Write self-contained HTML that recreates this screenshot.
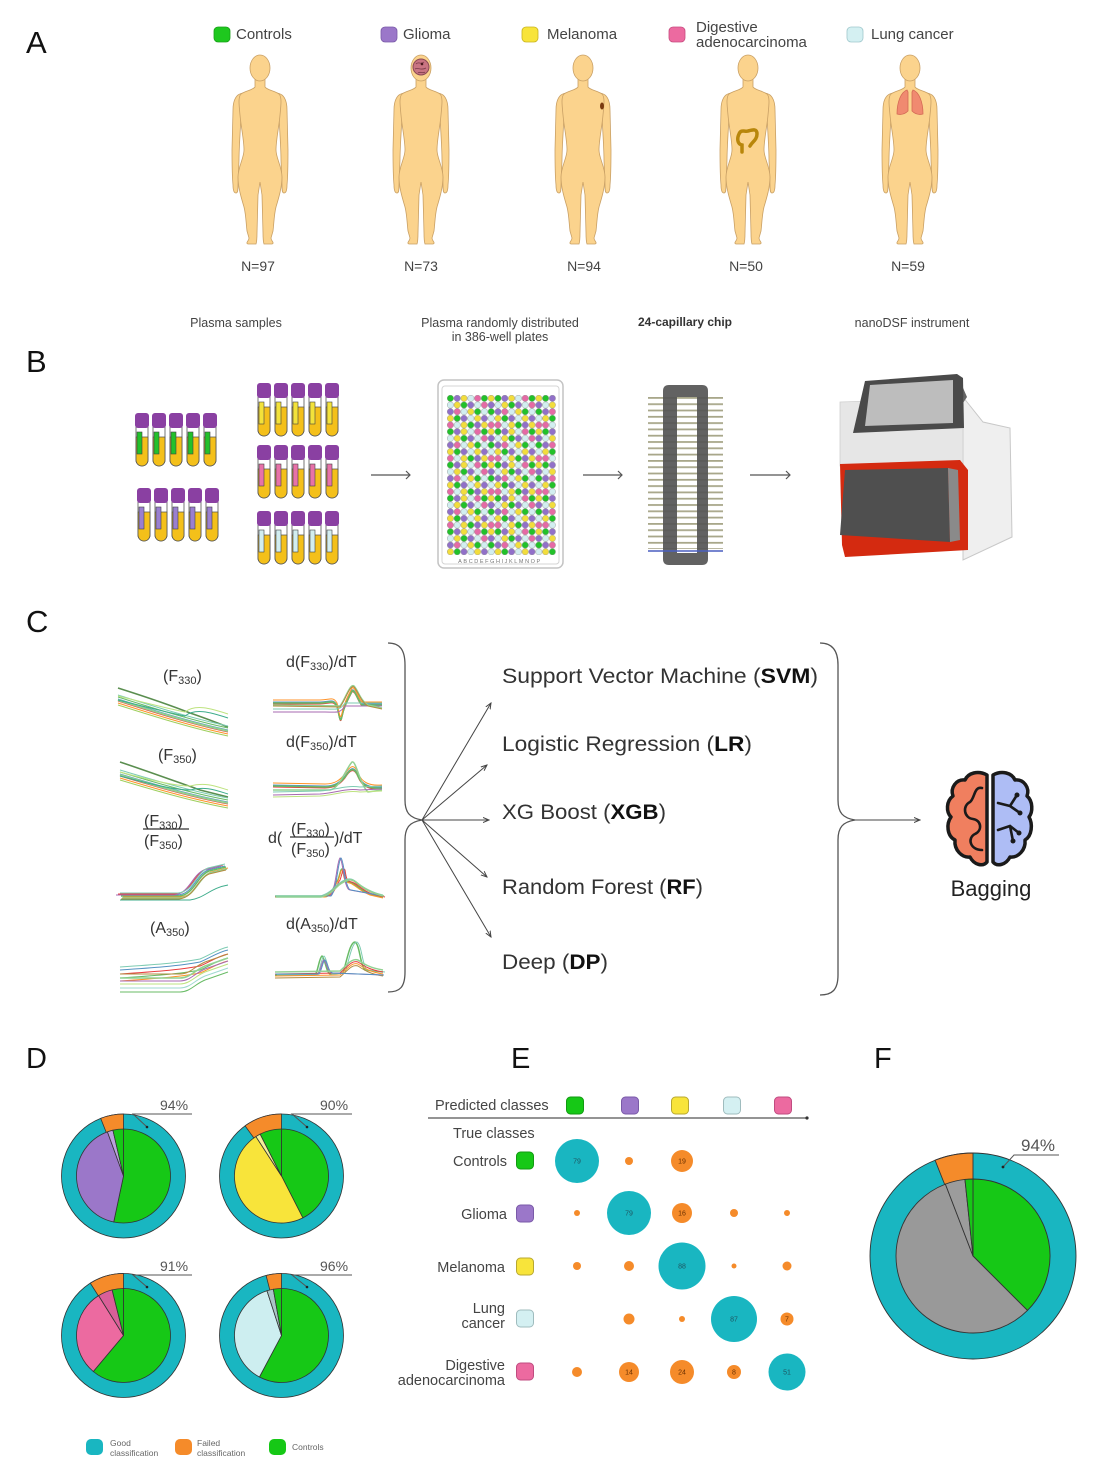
<!DOCTYPE html>
<html><head><meta charset="utf-8"><style>
html,body{margin:0;padding:0;background:#fff;}
svg{display:block;}
text{font-family:"Liberation Sans",sans-serif;}
</style></head><body>
<svg width="1096" height="1470" viewBox="0 0 1096 1470" xmlns="http://www.w3.org/2000/svg">
<defs>
  <g id="fig">
    <path d="M-17,38 C-24,39 -27,45 -27,55 L-28,95 C-28,110 -28,120 -27,130 C-27,135 -26,138 -24,138 C-22,138 -22,134 -22,130 L-21,105 C-21,95 -20,80 -19,62 Z"/>
    <path d="M17,38 C24,39 27,45 27,55 L28,95 C28,110 28,120 27,130 C27,135 26,138 24,138 C22,138 22,134 22,130 L21,105 C21,95 20,80 19,62 Z"/>
    <path d="M-5,24 L-5,32 C-7,35 -15,36 -19,39 C-22,42 -21,50 -20,60 C-19,72 -16,85 -16,95 C-16,103 -22,112 -22,122 C-22,132 -19,142 -16,152 C-14,160 -14,168 -13,176 L-11,183 C-11,186 -15,188 -12,189 L-4,189 C-3,186 -3,183 -3,178 L-2,140 L0,127 L2,140 L3,178 C3,183 3,186 4,189 L12,189 C15,188 11,186 11,183 L13,176 C14,168 14,160 16,152 C19,142 22,132 22,122 C22,112 16,103 16,95 C16,85 19,72 20,60 C21,50 22,42 19,39 C15,36 7,35 5,32 L5,24 Z"/>
    <ellipse cx="0" cy="13" rx="10" ry="13"/>
  </g>
  <g id="tube">
    <path d="M1,14 L13,14 L13,47 A6,6 0 0 1 1,47 Z" fill="#fff" stroke="#555" stroke-width="0.8"/>
    <path d="M1,24 L13,24 L13,47 A6,6 0 0 1 1,47 Z" fill="#f4c01a" stroke="#555" stroke-width="0.8"/>
    <rect x="2" y="19" width="5" height="22" fill="currentColor" stroke="#444" stroke-width="0.6"/>
    <rect x="0" y="0" width="14" height="15" rx="3" fill="#8a40a2"/>
  </g>
  <pattern id="wells" x="447" y="395" width="47.6" height="33.35" patternUnits="userSpaceOnUse">
    <g stroke="#8a8a8a" stroke-width="0.4">
      <circle cx="3.4" cy="3.3" r="3.2" fill="#22c12a"/><circle cx="10.2" cy="3.3" r="3.2" fill="#9170c8"/><circle cx="17" cy="3.3" r="3.2" fill="#f2dd3c"/><circle cx="23.8" cy="3.3" r="3.2" fill="#d2eef0"/><circle cx="30.6" cy="3.3" r="3.2" fill="#e56aa5"/><circle cx="37.4" cy="3.3" r="3.2" fill="#22c12a"/><circle cx="44.2" cy="3.3" r="3.2" fill="#f2dd3c"/>
      <circle cx="3.4" cy="10" r="3.2" fill="#d2eef0"/><circle cx="10.2" cy="10" r="3.2" fill="#f2dd3c"/><circle cx="17" cy="10" r="3.2" fill="#22c12a"/><circle cx="23.8" cy="10" r="3.2" fill="#9170c8"/><circle cx="30.6" cy="10" r="3.2" fill="#d2eef0"/><circle cx="37.4" cy="10" r="3.2" fill="#e56aa5"/><circle cx="44.2" cy="10" r="3.2" fill="#9170c8"/>
      <circle cx="3.4" cy="16.7" r="3.2" fill="#9170c8"/><circle cx="10.2" cy="16.7" r="3.2" fill="#e56aa5"/><circle cx="17" cy="16.7" r="3.2" fill="#d2eef0"/><circle cx="23.8" cy="16.7" r="3.2" fill="#f2dd3c"/><circle cx="30.6" cy="16.7" r="3.2" fill="#22c12a"/><circle cx="37.4" cy="16.7" r="3.2" fill="#d2eef0"/><circle cx="44.2" cy="16.7" r="3.2" fill="#22c12a"/>
      <circle cx="3.4" cy="23.4" r="3.2" fill="#f2dd3c"/><circle cx="10.2" cy="23.4" r="3.2" fill="#22c12a"/><circle cx="17" cy="23.4" r="3.2" fill="#9170c8"/><circle cx="23.8" cy="23.4" r="3.2" fill="#d2eef0"/><circle cx="30.6" cy="23.4" r="3.2" fill="#f2dd3c"/><circle cx="37.4" cy="23.4" r="3.2" fill="#9170c8"/><circle cx="44.2" cy="23.4" r="3.2" fill="#d2eef0"/>
      <circle cx="3.4" cy="30" r="3.2" fill="#e56aa5"/><circle cx="10.2" cy="30" r="3.2" fill="#d2eef0"/><circle cx="17" cy="30" r="3.2" fill="#f2dd3c"/><circle cx="23.8" cy="30" r="3.2" fill="#22c12a"/><circle cx="30.6" cy="30" r="3.2" fill="#9170c8"/><circle cx="37.4" cy="30" r="3.2" fill="#f2dd3c"/><circle cx="44.2" cy="30" r="3.2" fill="#e56aa5"/>
    </g>
  </pattern>
  <pattern id="stripes" x="0" y="397" width="10" height="6.3" patternUnits="userSpaceOnUse">
    <rect x="0" y="0" width="10" height="1.8" fill="#a8a78a"/>
  </pattern>
  <marker id="ah" markerWidth="7" markerHeight="7" refX="6" refY="3.5" orient="auto" markerUnits="userSpaceOnUse">
    <path d="M0,1 L6,3.5 L0,6" fill="none" stroke="#444" stroke-width="1"/>
  </marker>
  <path id="p1a" d="M118,697 C150,707 190,720 228,728"/>
  <path id="p1b" d="M118,688 C140,695 170,705 190,713 C205,718 215,722 228,727"/>
  <path id="p1c" d="M118,700 C150,708 175,714 185,716 C195,708 210,712 228,718"/>
  <path id="p2a" d="M120,772 C150,781 190,793 228,800"/>
  <path id="p2b" d="M120,762 C150,772 180,783 200,790 L228,797"/>
  <path id="p2c" d="M120,776 C150,784 175,790 190,790 C205,786 215,790 228,794"/>
  <path id="p3a" d="M120,895 L178,895 C193,894 196,875 208,870 L225,866"/>
  <path id="p3b" d="M120,900 L190,900 C205,898 210,888 228,885"/>
  <path id="p4a" d="M120,970 C150,968 180,966 200,962 C210,958 218,952 228,950"/>
  <path id="p4b" d="M120,978 L180,978 C190,978 195,970 205,966 L228,958"/>
  <path id="p5a" d="M273,702 L320,702 C330,702 333,698 337,705 C339,712 340,725 342,715 C344,705 348,698 352,690 C355,688 358,700 362,704 L382,704"/>
  <path id="p5b" d="M273,712 L325,712 C335,712 340,714 345,706 L382,706"/>
  <path id="p5c" d="M273,705 L340,706 C345,700 350,683 354,686 C358,690 360,700 368,705 L382,708"/>
  <path id="p6a" d="M273,785 L325,786 C335,786 340,782 345,776 C350,768 354,765 358,775 C362,785 370,788 382,787"/>
  <path id="p6b" d="M273,790 L330,790 C340,788 345,770 352,762 C356,760 360,785 368,792 L382,790"/>
  <path id="p6c" d="M273,795 L320,794 C335,793 345,788 360,790 L382,789"/>
  <path id="p7a" d="M275,896 L325,896 C332,896 334,885 338,880 C340,875 341,866 343,870 C345,885 347,880 352,883 C356,885 360,890 370,894 L383,897"/>
  <path id="p7b" d="M275,896 L330,896 C336,890 337,860 340,858 C343,860 344,890 350,890 L383,896"/>
  <path id="p7c" d="M275,897 L320,897 C328,895 333,890 338,885 C345,880 350,878 355,882 C362,888 370,893 383,896"/>
  <path id="p8a" d="M275,975 L315,975 C318,972 319,958 322,956 C325,958 326,972 330,974 L343,973 C347,960 350,942 355,942 C360,945 360,965 365,970 L383,972"/>
  <path id="p8b" d="M275,976 L340,975 C348,968 352,962 358,964 C364,968 370,972 383,974"/>
  <path id="p8c" d="M275,974 L318,974 C321,970 322,960 324,960 C327,963 327,972 332,973 L383,975"/>
</defs>

<!-- ===== Panel A ===== -->
<text x="26" y="53" font-size="31" fill="#111">A</text>
<g font-size="15" fill="#444">
  <rect x="214" y="27" width="16" height="15" rx="4" fill="#1ec81e" stroke="#18a018" stroke-width="0.8"/>
  <text x="236" y="39">Controls</text>
  <rect x="381" y="27" width="16" height="15" rx="4" fill="#9b77c9" stroke="#7a5aa8" stroke-width="0.8"/>
  <text x="403" y="39">Glioma</text>
  <rect x="522" y="27" width="16" height="15" rx="4" fill="#f8e43a" stroke="#c8b420" stroke-width="0.8"/>
  <text x="547" y="39">Melanoma</text>
  <rect x="669" y="27" width="16" height="15" rx="4" fill="#ec6aa0" stroke="#c84c80" stroke-width="0.8"/>
  <text x="696" y="32">Digestive</text>
  <text x="696" y="47">adenocarcinoma</text>
  <rect x="847" y="27" width="16" height="15" rx="4" fill="#d4f0f2" stroke="#a0c8cc" stroke-width="0.8"/>
  <text x="871" y="39">Lung cancer</text>
</g>
<g fill="#fbd38d" stroke="#c9a065" stroke-width="0.8">
  <use href="#fig" transform="translate(260,55)"/>
  <use href="#fig" transform="translate(421,55)"/>
  <use href="#fig" transform="translate(583,55)"/>
  <use href="#fig" transform="translate(748,55)"/>
  <use href="#fig" transform="translate(910,55)"/>
</g>
<circle cx="421" cy="67" r="8" fill="#c97482" stroke="#8a4a55" stroke-width="1"/>
<path d="M416,64 C418,61 421,65 424,62 M415,69 C418,67 421,71 426,68 M418,73 C420,71 423,74 425,72" fill="none" stroke="#7a3a48" stroke-width="0.8"/>
<circle cx="422" cy="64" r="1.3" fill="#4a1a20"/>
<ellipse cx="602" cy="106" rx="2" ry="3.5" fill="#7a3a10"/>
<path d="M742,152 L742,145 C737,144 737,138 739,134 C741,129 745,132 748,131 C752,130 757,128 757,134 C757,140 752,142 750,146" fill="none" stroke="#b8860b" stroke-width="3.5" stroke-linecap="round"/>
<path d="M907,90 C901,92 897,102 897,114 C901,115 905,114 908,111 L908,92 Z" fill="#f08a70" stroke="#d46a55" stroke-width="0.8"/>
<path d="M913,90 C919,92 923,102 923,114 C919,115 915,114 912,111 L912,92 Z" fill="#f08a70" stroke="#d46a55" stroke-width="0.8"/>
<g font-size="14" fill="#444" text-anchor="middle">
  <text x="258" y="271">N=97</text>
  <text x="421" y="271">N=73</text>
  <text x="584" y="271">N=94</text>
  <text x="746" y="271">N=50</text>
  <text x="908" y="271">N=59</text>
</g>

<!-- ===== Panel B ===== -->
<g font-size="12.5" fill="#444" text-anchor="middle">
  <text x="236" y="327">Plasma samples</text>
  <text x="500" y="327">Plasma randomly distributed</text>
  <text x="500" y="341">in 386-well plates</text>
  <text x="685" y="326" font-weight="bold" font-size="12" fill="#333">24-capillary chip</text>
  <text x="912" y="327">nanoDSF instrument</text>
</g>
<text x="26" y="372" font-size="31" fill="#111">B</text>
<g color="#22c12a">
  <use href="#tube" x="135" y="413"/><use href="#tube" x="152" y="413"/><use href="#tube" x="169" y="413"/><use href="#tube" x="186" y="413"/><use href="#tube" x="203" y="413"/>
</g>
<g color="#9a7fd0">
  <use href="#tube" x="137" y="488"/><use href="#tube" x="154" y="488"/><use href="#tube" x="171" y="488"/><use href="#tube" x="188" y="488"/><use href="#tube" x="205" y="488"/>
</g>
<g color="#f3e23a">
  <use href="#tube" x="257" y="383"/><use href="#tube" x="274" y="383"/><use href="#tube" x="291" y="383"/><use href="#tube" x="308" y="383"/><use href="#tube" x="325" y="383"/>
</g>
<g color="#e872a8">
  <use href="#tube" x="257" y="445"/><use href="#tube" x="274" y="445"/><use href="#tube" x="291" y="445"/><use href="#tube" x="308" y="445"/><use href="#tube" x="325" y="445"/>
</g>
<g color="#d2eef0">
  <use href="#tube" x="257" y="511"/><use href="#tube" x="274" y="511"/><use href="#tube" x="291" y="511"/><use href="#tube" x="308" y="511"/><use href="#tube" x="325" y="511"/>
</g>
<g stroke="#555" stroke-width="1.2" fill="none">
  <line x1="371" y1="475" x2="410" y2="475"/><path d="M406,471 L410,475 L406,479"/>
  <line x1="583" y1="475" x2="622" y2="475"/><path d="M618,471 L622,475 L618,479"/>
  <line x1="750" y1="475" x2="790" y2="475"/><path d="M786,471 L790,475 L786,479"/>
</g>
<rect x="438" y="380" width="125" height="188" rx="6" fill="#fff" stroke="#c4c4c4" stroke-width="1.5"/>
<rect x="442" y="386" width="117" height="178" rx="3" fill="#fff" stroke="#d4d4d4" stroke-width="1"/>
<rect x="447" y="395" width="108.8" height="160" fill="url(#wells)"/>
<text x="500" y="563" font-size="5.5" fill="#777" text-anchor="middle" letter-spacing="1.6">ABCDEFGHIJKLMNOP</text>
<rect x="648" y="397" width="75" height="152" fill="url(#stripes)"/>
<path d="M669,385 L702,385 Q708,385 708,391 L708,559 Q708,565 702,565 L669,565 Q663,565 663,559 L663,391 Q663,385 669,385 Z M677,397 L677,553 L697,553 L697,397 Z" fill="#555" fill-rule="evenodd" opacity="0.92"/>
<line x1="648" y1="551" x2="723" y2="551" stroke="#4a5fc0" stroke-width="1.4"/>
<polygon points="963,397 983,422 1010,428 1012,537 963,560" fill="#efefef" stroke="#c8c8c8" stroke-width="1"/>
<polygon points="957,374 967,397 963,403 953,380" fill="#666"/>
<polygon points="840,402 963,398 963,463 840,466" fill="#e6e6e6" stroke="#cfcfcf" stroke-width="0.8"/>
<polygon points="865,381 957,374 963,378 964,428 853,433" fill="#4a4a4a"/>
<polygon points="870,385 953,380 953,423 865,426" fill="#bdbdbd"/>
<polygon points="840,464 960,460 968,470 968,550 845,557 842,545" fill="#d42a10"/>
<polygon points="845,470 948,468 950,542 840,535" fill="#4f4f4f"/>
<polygon points="948,468 958,470 960,540 950,542" fill="#8a8a8a"/>

<!-- ===== Panel C ===== -->
<text x="26" y="632" font-size="31" fill="#111">C</text>
<g fill="#333" font-size="16">
  <text x="163" y="681">(F<tspan font-size="11" dy="3">330</tspan><tspan dy="-3">)</tspan></text>
  <text x="286" y="667">d(F<tspan font-size="11" dy="3">330</tspan><tspan dy="-3">)/dT</tspan></text>
  <text x="158" y="760">(F<tspan font-size="11" dy="3">350</tspan><tspan dy="-3">)</tspan></text>
  <text x="286" y="747">d(F<tspan font-size="11" dy="3">350</tspan><tspan dy="-3">)/dT</tspan></text>
  <text x="144" y="826">(F<tspan font-size="11" dy="3">330</tspan><tspan dy="-3">)</tspan></text>
  <line x1="143" y1="829" x2="189" y2="829" stroke="#333" stroke-width="1.3"/>
  <text x="144" y="846">(F<tspan font-size="11" dy="3">350</tspan><tspan dy="-3">)</tspan></text>
  <text x="268" y="843">d(</text>
  <text x="291" y="834">(F<tspan font-size="11" dy="3">330</tspan><tspan dy="-3">)</tspan></text>
  <line x1="290" y1="837" x2="334" y2="837" stroke="#333" stroke-width="1.3"/>
  <text x="291" y="854">(F<tspan font-size="11" dy="3">350</tspan><tspan dy="-3">)</tspan></text>
  <text x="334" y="843">)/dT</text>
  <text x="150" y="933">(A<tspan font-size="11" dy="3">350</tspan><tspan dy="-3">)</tspan></text>
  <text x="286" y="929">d(A<tspan font-size="11" dy="3">350</tspan><tspan dy="-3">)/dT</tspan></text>
</g>
<g fill="none" stroke-width="1" opacity="0.85">
  <use href="#p1b" stroke="#3d7a30" stroke-width="1.6"/>
  <use href="#p1a" stroke="#4daf4a"/><use href="#p1a" y="2" stroke="#377eb8"/><use href="#p1a" y="4" stroke="#e41a1c"/><use href="#p1a" y="-2" stroke="#66c2a5"/><use href="#p1a" y="6" stroke="#ff7f00"/><use href="#p1a" y="3" stroke="#7fc97f" stroke-width="2"/><use href="#p1a" y="8" stroke="#8dc63f"/>
  <use href="#p1c" stroke="#1b9e77"/><use href="#p1c" y="-4" stroke="#b3de69"/>
  <use href="#p2b" stroke="#3d7a30" stroke-width="1.6"/>
  <use href="#p2a" stroke="#4daf4a"/><use href="#p2a" y="2" stroke="#377eb8"/><use href="#p2a" y="4" stroke="#e41a1c"/><use href="#p2a" y="-2" stroke="#66c2a5"/><use href="#p2a" y="6" stroke="#ff7f00"/><use href="#p2a" y="3" stroke="#7fc97f" stroke-width="2"/><use href="#p2a" y="8" stroke="#8dc63f"/>
  <use href="#p2c" stroke="#1b9e77"/><use href="#p2c" y="-4" stroke="#b3de69"/>
  <use href="#p3a" stroke="#377eb8"/><use href="#p3a" x="1" y="1" stroke="#4daf4a" stroke-width="1.5"/><use href="#p3a" x="-2" y="-1" stroke="#e41a1c"/><use href="#p3a" x="3" y="2" stroke="#ff7f00"/><use href="#p3a" x="-4" y="0" stroke="#984ea3"/><use href="#p3a" x="2" y="3" stroke="#7fc97f" stroke-width="1.6"/><use href="#p3a" x="0" y="-2" stroke="#66c2a5"/><use href="#p3a" x="1" y="4" stroke="#a6761d"/>
  <use href="#p3b" stroke="#1b9e77"/>
  <use href="#p4a" stroke="#377eb8"/><use href="#p4a" y="4" stroke="#e41a1c"/><use href="#p4a" y="8" stroke="#4daf4a"/><use href="#p4a" y="11" stroke="#ff7f00"/><use href="#p4a" y="-3" stroke="#66c2a5"/>
  <use href="#p4b" stroke="#7fc97f" stroke-width="1.6"/><use href="#p4b" y="3" stroke="#984ea3"/><use href="#p4b" y="6" stroke="#b3de69"/><use href="#p4b" y="-4" stroke="#a6761d"/><use href="#p4b" y="10" stroke="#8dd3c7"/><use href="#p4b" y="14" stroke="#4daf4a"/>
  <use href="#p5a" stroke="#377eb8"/><use href="#p5a" y="2" stroke="#e41a1c"/><use href="#p5a" y="1" stroke="#4daf4a" stroke-width="1.6"/><use href="#p5a" y="-2" stroke="#ff7f00"/><use href="#p5b" stroke="#984ea3"/><use href="#p5b" y="-3" stroke="#66c2a5"/><use href="#p5c" stroke="#7fc97f" stroke-width="1.5"/><use href="#p5c" y="1" stroke="#a6761d"/>
  <use href="#p6a" stroke="#377eb8"/><use href="#p6a" y="2" stroke="#e41a1c"/><use href="#p6a" y="1" stroke="#4daf4a" stroke-width="1.6"/><use href="#p6a" y="-2" stroke="#ff7f00"/><use href="#p6b" stroke="#7fc97f" stroke-width="1.5"/><use href="#p6c" stroke="#984ea3"/><use href="#p6c" y="-3" stroke="#66c2a5"/><use href="#p6c" y="2" stroke="#b3de69"/>
  <use href="#p7a" stroke="#4daf4a" stroke-width="1.6"/><use href="#p7a" y="1" stroke="#ff7f00"/><use href="#p7a" x="2" stroke="#e41a1c"/><use href="#p7b" stroke="#984ea3"/><use href="#p7b" x="1" stroke="#377eb8"/><use href="#p7c" stroke="#a6761d"/><use href="#p7c" y="-1" stroke="#66c2a5"/><use href="#p7c" x="1" stroke="#7fc97f" stroke-width="1.5"/>
  <use href="#p8a" stroke="#4daf4a" stroke-width="1.5"/><use href="#p8a" x="2" stroke="#66c2a5"/><use href="#p8b" stroke="#ff7f00"/><use href="#p8b" y="-2" stroke="#e41a1c"/><use href="#p8b" y="2" stroke="#a6761d"/><use href="#p8c" stroke="#984ea3"/><use href="#p8c" x="1" stroke="#377eb8"/><use href="#p8b" y="-4" stroke="#7fc97f" stroke-width="1.5"/>
</g>
<g fill="none" stroke="#555" stroke-width="1.3">
  <path d="M388,643 C400,643 405,650 405,665 L405,800 C405,813 410,818 422,820 C410,822 405,827 405,840 L405,972 C405,987 400,992 388,992"/>
  <path d="M820,643 C832,643 838,650 838,665 L838,800 C838,813 843,818 855,820 C843,822 838,827 838,840 L838,975 C838,990 832,995 820,995"/>
</g>
<g stroke="#444" stroke-width="1" fill="none" marker-end="url(#ah)">
  <line x1="422" y1="820" x2="491" y2="703"/>
  <line x1="422" y1="820" x2="487" y2="765"/>
  <line x1="422" y1="820" x2="489" y2="820"/>
  <line x1="422" y1="820" x2="487" y2="877"/>
  <line x1="422" y1="820" x2="491" y2="937"/>
  <line x1="855" y1="820" x2="920" y2="820"/>
</g>
<g font-size="21" fill="#333">
  <text x="502" y="683" textLength="316" lengthAdjust="spacingAndGlyphs">Support Vector Machine (<tspan font-weight="bold" fill="#111">SVM</tspan>)</text>
  <text x="502" y="751" textLength="250" lengthAdjust="spacingAndGlyphs">Logistic Regression (<tspan font-weight="bold" fill="#111">LR</tspan>)</text>
  <text x="502" y="819" textLength="164" lengthAdjust="spacingAndGlyphs">XG Boost (<tspan font-weight="bold" fill="#111">XGB</tspan>)</text>
  <text x="502" y="894" textLength="201" lengthAdjust="spacingAndGlyphs">Random Forest (<tspan font-weight="bold" fill="#111">RF</tspan>)</text>
  <text x="502" y="969" textLength="106" lengthAdjust="spacingAndGlyphs">Deep (<tspan font-weight="bold" fill="#111">DP</tspan>)</text>
</g>
<g stroke="#1a1a1a" stroke-width="3.5" stroke-linejoin="round">
  <path d="M987,775 C978,770 968,773 965,780 C956,779 950,788 953,796 C946,801 946,812 951,817 C946,824 947,836 955,840 C954,850 962,858 970,857 C974,865 983,867 987,862 Z" fill="#f07f5f"/>
  <path d="M993,775 C1002,770 1012,773 1015,780 C1024,779 1030,788 1027,796 C1033,801 1033,812 1029,817 C1033,824 1032,836 1025,840 C1026,850 1018,858 1010,857 C1006,865 997,867 993,862 Z" fill="#aebdf5"/>
</g>
<g fill="none" stroke="#1a1a1a" stroke-width="2.6" stroke-linecap="round">
  <path d="M982,788 C974,786 975,798 970,802 C962,806 964,818 973,819 C981,820 983,830 975,834 C967,838 970,850 982,850"/>
  <path d="M998,803 L1010,806 L1017,795 M1010,806 L1020,813 M998,830 L1010,826 L1019,833 M1010,826 L1013,841"/>
</g>
<g fill="#1a1a1a"><circle cx="1017" cy="795" r="2.5"/><circle cx="1020" cy="813" r="2.5"/><circle cx="1019" cy="833" r="2.5"/><circle cx="1013" cy="841" r="2.5"/></g>
<text x="991" y="896" font-size="22" fill="#222" text-anchor="middle">Bagging</text>

<!-- ===== Panel D ===== -->
<text x="26" y="1068" font-size="29" fill="#111">D</text>
<g stroke="#333" stroke-width="0.8">
  <circle cx="123.5" cy="1176" r="62" fill="#19b6c1"/>
  <path d="M123.5,1176 L100.68,1118.35 A62,62 0 0 1 123.5,1114 Z" fill="#f58b2a"/>
  <path d="M123.5,1176 L123.5,1129 A47,47 0 1 1 113.73,1221.97 Z" fill="#16c816"/>
  <path d="M123.5,1176 L113.73,1221.97 A47,47 0 0 1 107.43,1131.83 Z" fill="#9b77c9"/>
  <path d="M123.5,1176 L107.43,1131.83 A47,47 0 0 1 112.93,1130.2 Z" fill="#b9a2dc"/>
  <path d="M123.5,1176 L112.93,1130.2 A47,47 0 0 1 123.5,1129 Z" fill="#16c816"/>
  <circle cx="281.5" cy="1176" r="62" fill="#19b6c1"/>
  <path d="M281.5,1176 L245.06,1125.84 A62,62 0 0 1 281.5,1114 Z" fill="#f58b2a"/>
  <path d="M281.5,1176 L281.5,1129 A47,47 0 0 1 302.84,1217.88 Z" fill="#16c816"/>
  <path d="M281.5,1176 L302.84,1217.88 A47,47 0 0 1 255.9,1136.58 Z" fill="#f8e43a"/>
  <path d="M281.5,1176 L255.9,1136.58 A47,47 0 0 1 260.16,1134.12 Z" fill="#f4ee9a"/>
  <path d="M281.5,1176 L260.16,1134.12 A47,47 0 0 1 281.5,1129 Z" fill="#16c816"/>
  <circle cx="123.5" cy="1335.5" r="62" fill="#19b6c1"/>
  <path d="M123.5,1335.5 L90.28,1283.15 A62,62 0 0 1 123.5,1273.5 Z" fill="#f58b2a"/>
  <path d="M123.5,1335.5 L123.5,1288.5 A47,47 0 1 1 93.29,1371.5 Z" fill="#16c816"/>
  <path d="M123.5,1335.5 L93.29,1371.5 A47,47 0 0 1 98.59,1295.64 Z" fill="#ec6aa0"/>
  <path d="M123.5,1335.5 L98.59,1295.64 A47,47 0 0 1 112.13,1289.9 Z" fill="#d95f98"/>
  <path d="M123.5,1335.5 L112.13,1289.9 A47,47 0 0 1 123.5,1288.5 Z" fill="#16c816"/>
  <circle cx="281.5" cy="1335.5" r="62" fill="#19b6c1"/>
  <path d="M281.5,1335.5 L266.08,1275.45 A62,62 0 0 1 281.5,1273.5 Z" fill="#f58b2a"/>
  <path d="M281.5,1335.5 L281.5,1288.5 A47,47 0 1 1 259.43,1377 Z" fill="#16c816"/>
  <path d="M281.5,1335.5 L259.43,1377 A47,47 0 0 1 266.98,1290.8 Z" fill="#cdeef0"/>
  <path d="M281.5,1335.5 L266.98,1290.8 A47,47 0 0 1 273.34,1289.21 Z" fill="#a8c4c6"/>
  <path d="M281.5,1335.5 L273.34,1289.21 A47,47 0 0 1 281.5,1288.5 Z" fill="#16c816"/>
</g>
<g fill="#555" font-size="14">
  <text x="160" y="1110">94%</text>
  <text x="320" y="1110">90%</text>
  <text x="160" y="1271">91%</text>
  <text x="320" y="1271">96%</text>
</g>
<g stroke="#555" stroke-width="1" fill="none">
  <path d="M192,1114 L133,1114 L147,1127"/>
  <path d="M352,1114 L292,1114 L307,1127"/>
  <path d="M192,1275 L133,1275 L147,1287"/>
  <path d="M352,1275 L292,1275 L307,1287"/>
</g>
<g fill="#222"><circle cx="147" cy="1127" r="1.3"/><circle cx="307" cy="1127" r="1.3"/><circle cx="147" cy="1287" r="1.3"/><circle cx="307" cy="1287" r="1.3"/></g>
<rect x="86" y="1439" width="17" height="16" rx="5" fill="#19b6c1"/>
<rect x="175" y="1439" width="17" height="16" rx="5" fill="#f58b2a"/>
<rect x="269" y="1439" width="17" height="16" rx="5" fill="#16c816"/>
<g font-size="8.5" fill="#666">
  <text x="110" y="1446">Good</text><text x="110" y="1456">classification</text>
  <text x="197" y="1446">Failed</text><text x="197" y="1456">classification</text>
  <text x="292" y="1450">Controls</text>
</g>

<!-- ===== Panel E ===== -->
<text x="511" y="1068" font-size="29" fill="#111">E</text>
<g font-size="14.5" fill="#444">
  <text x="435" y="1110">Predicted classes</text>
  <text x="453" y="1138">True classes</text>
  <g text-anchor="end">
    <text x="507" y="1166">Controls</text>
    <text x="507" y="1219">Glioma</text>
    <text x="505" y="1272">Melanoma</text>
    <text x="505" y="1313">Lung</text>
    <text x="505" y="1328">cancer</text>
    <text x="505" y="1370">Digestive</text>
    <text x="505" y="1385">adenocarcinoma</text>
  </g>
</g>
<g stroke-width="1">
  <rect x="566.5" y="1097" width="17" height="17" rx="4" fill="#16c816" stroke="#129a12"/>
  <rect x="621.5" y="1097" width="17" height="17" rx="4" fill="#9b77c9" stroke="#7a5aa8"/>
  <rect x="671.5" y="1097" width="17" height="17" rx="4" fill="#f8e43a" stroke="#b8a830"/>
  <rect x="723.5" y="1097" width="17" height="17" rx="4" fill="#d4f0f2" stroke="#9fbcbe"/>
  <rect x="774.5" y="1097" width="17" height="17" rx="4" fill="#ec6aa0" stroke="#c04c80"/>
  <rect x="516.5" y="1152" width="17" height="17" rx="4" fill="#16c816" stroke="#129a12"/>
  <rect x="516.5" y="1205" width="17" height="17" rx="4" fill="#9b77c9" stroke="#7a5aa8"/>
  <rect x="516.5" y="1258" width="17" height="17" rx="4" fill="#f8e43a" stroke="#b8a830"/>
  <rect x="516.5" y="1310" width="17" height="17" rx="4" fill="#d4f0f2" stroke="#9fbcbe"/>
  <rect x="516.5" y="1363" width="17" height="17" rx="4" fill="#ec6aa0" stroke="#c04c80"/>
</g>
<line x1="428" y1="1118" x2="806" y2="1118" stroke="#555" stroke-width="1.3"/>
<circle cx="807" cy="1118" r="1.6" fill="#333"/>
<g fill="#19b6c1">
  <circle cx="577" cy="1161" r="22"/>
  <circle cx="629" cy="1213" r="22"/>
  <circle cx="682" cy="1266" r="23.5"/>
  <circle cx="734" cy="1319" r="23"/>
  <circle cx="787" cy="1372" r="18.5"/>
</g>
<g fill="#f58b2a">
  <circle cx="629" cy="1161" r="4"/><circle cx="682" cy="1161" r="11"/>
  <circle cx="577" cy="1213" r="3"/><circle cx="682" cy="1213" r="10"/><circle cx="734" cy="1213" r="4"/><circle cx="787" cy="1213" r="3"/>
  <circle cx="577" cy="1266" r="4"/><circle cx="629" cy="1266" r="5"/><circle cx="734" cy="1266" r="2.5"/><circle cx="787" cy="1266" r="4.5"/>
  <circle cx="629" cy="1319" r="5.5"/><circle cx="682" cy="1319" r="3"/><circle cx="787" cy="1319" r="6.5"/>
  <circle cx="577" cy="1372" r="5"/><circle cx="629" cy="1372" r="10"/><circle cx="682" cy="1372" r="12"/><circle cx="734" cy="1372" r="7"/>
</g>
<g font-size="7" text-anchor="middle" fill="#1e5560">
  <text x="577" y="1163.5">79</text><text x="629" y="1215.5">79</text><text x="682" y="1268.5">88</text><text x="734" y="1321.5">87</text><text x="787" y="1374.5">51</text>
</g>
<g font-size="7" text-anchor="middle" fill="#6a3000">
  <text x="682" y="1163.5">19</text><text x="682" y="1215.5">16</text><text x="787" y="1321.5">7</text>
  <text x="629" y="1374.5">14</text><text x="682" y="1374.5">24</text><text x="734" y="1374.5">8</text>
</g>

<!-- ===== Panel F ===== -->
<text x="874" y="1068" font-size="29" fill="#111">F</text>
<g stroke="#333" stroke-width="0.9">
  <circle cx="973" cy="1256" r="103" fill="#19b6c1"/>
  <path d="M973,1256 L935.09,1160.23 A103,103 0 0 1 973,1153 Z" fill="#f58b2a"/>
  <path d="M973,1256 L973,1179 A77,77 0 0 1 1027.45,1310.45 Z" fill="#16c816"/>
  <path d="M973,1256 L1027.45,1310.45 A77,77 0 1 1 945.4,1184.11 Z" fill="#999999"/>
  <path d="M973,1256 L945.4,1184.11 A77,77 0 0 1 964.95,1179.42 Z" fill="#9c9c9c"/>
  <path d="M973,1256 L964.95,1179.42 A77,77 0 0 1 973,1179 Z" fill="#16c816"/>
</g>
<text x="1021" y="1151" font-size="17" fill="#555">94%</text>
<path d="M1059,1155 L1014,1155 L1003,1167" fill="none" stroke="#555" stroke-width="1"/>
<circle cx="1003" cy="1167" r="1.4" fill="#222"/>
</svg>
</body></html>
